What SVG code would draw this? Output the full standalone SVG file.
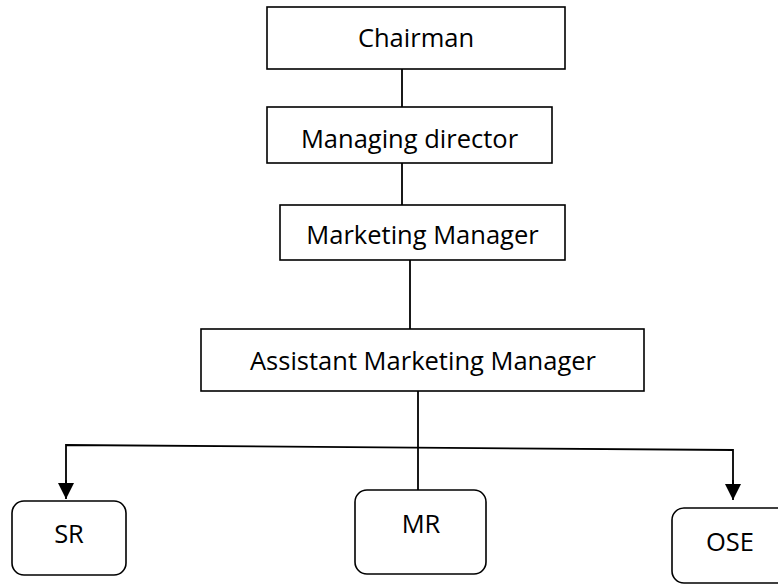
<svg xmlns="http://www.w3.org/2000/svg" width="778" height="585" viewBox="0 0 778 585">
<defs>
<style>
.box{fill:#fff;stroke:#000;stroke-width:1.6}
.lbl{font-family:"Open Sans","Liberation Sans",sans-serif;font-size:25.5px;fill:#000;text-anchor:middle}
.con{fill:none;stroke:#000;stroke-width:1.8}
</style>
<marker id="ah" markerWidth="16" markerHeight="16" viewBox="0 0 16 16" refX="16" refY="8" orient="auto" markerUnits="userSpaceOnUse">
<path d="M0,0 L16,8 L0,16 Z" fill="#000"/>
</marker>
</defs>
<rect width="778" height="585" fill="#fff"/>
<g id="connectors">
<line class="con" x1="402" y1="69" x2="402" y2="107"/>
<line class="con" x1="402" y1="162" x2="402" y2="205"/>
<line class="con" x1="410" y1="258" x2="410" y2="329"/>
<line class="con" x1="418" y1="391" x2="418" y2="490"/>
<polyline class="con" points="66,485 66,445 733,450 733,485"/>
<line class="con" x1="66" y1="480" x2="66" y2="499" marker-end="url(#ah)"/>
<line class="con" x1="733" y1="480" x2="733" y2="500" marker-end="url(#ah)"/>
</g>
<g id="chairman">
<rect class="box" x="267" y="7" width="298" height="62"/>
<text class="lbl" x="416" y="47">Chairman</text>
</g>
<g id="managing-director">
<rect class="box" x="267" y="107" width="285" height="56"/>
<text class="lbl" x="409.5" y="148">Managing director</text>
</g>
<g id="marketing-manager">
<rect class="box" x="280" y="205" width="285" height="55"/>
<text class="lbl" x="422.5" y="244">Marketing Manager</text>
</g>
<g id="assistant-marketing-manager">
<rect class="box" x="201" y="329" width="443" height="62"/>
<text class="lbl" x="423" y="370">Assistant Marketing Manager</text>
</g>
<g id="sr">
<rect class="box" x="12" y="501" width="114" height="74" rx="12"/>
<text class="lbl" x="69" y="543">SR</text>
</g>
<g id="mr">
<rect class="box" x="355" y="490" width="131" height="84" rx="12"/>
<text class="lbl" x="421" y="533">MR</text>
</g>
<g id="ose">
<rect class="box" x="672" y="508" width="120" height="75" rx="12"/>
<text class="lbl" x="730" y="551">OSE</text>
</g>
</svg>
